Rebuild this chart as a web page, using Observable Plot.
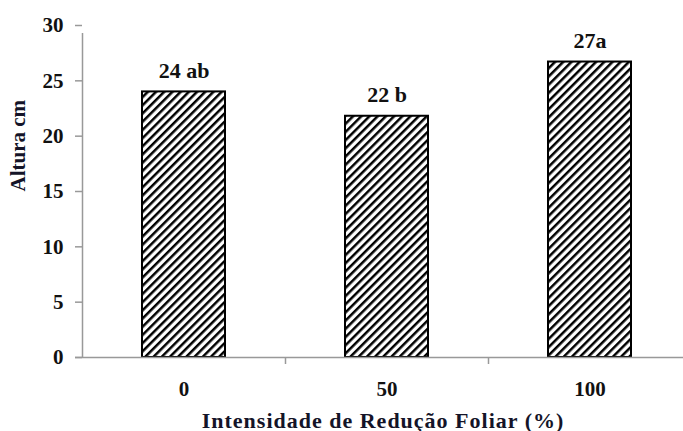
<!DOCTYPE html>
<html>
<head>
<meta charset="utf-8">
<script src="https://cdn.jsdelivr.net/npm/d3@7"></script>
<script src="https://cdn.jsdelivr.net/npm/@observablehq/plot@0.6"></script>
<style>
  html, body { margin: 0; padding: 0; background: #fff; }
  svg { display: block; }
  svg text { font-family: 'Liberation Serif', 'Times New Roman', serif !important; }
</style>
</head>
<body>
<div id="chart"></div>
<script>
const categories = ["0", "50", "100"];
const values = [24.0, 21.8, 26.7];
const labels = ["24 ab", "22 b", "27a"];
const yTicks = [0, 5, 10, 15, 20, 25, 30];
const xTitle = "Intensidade de Redução Foliar (%)";
const yTitle = "Altura cm";

const data = categories.map((c, i) => ({cat: c, value: values[i], label: labels[i]}));

const font = "'Liberation Serif', 'Times New Roman', serif";
const step = 203;

const chart = Plot.plot({
  width: 683,
  height: 431,
  marginLeft: 82,
  marginRight: 0,
  marginTop: 25,
  marginBottom: 74,
  style: {fontFamily: font, fontWeight: "bold", color: "#111", background: "#fff"},
  x: {domain: categories, range: [82, 82 + 3 * step], paddingInner: 0.59, paddingOuter: 0.295, axis: null},
  y: {domain: [0, 30], axis: null},
  marks: [
    Plot.axisY({ticks: yTicks, tickSize: 7, tickPadding: 12, stroke: "#999", strokeWidth: 1.5,
      fontSize: 21, fontFamily: font, fontWeight: "bold", fill: "#111", label: null}),
    Plot.axisX({tickSize: 0, tickPadding: 24, fontSize: 21, fontFamily: font, fontWeight: "bold", fill: "#111", label: null}),
    Plot.barY(data, {x: "cat", y: "value", fill: "url(#hatch)", stroke: "#000", strokeWidth: 2}),
    Plot.ruleY([0], {stroke: "#999", strokeWidth: 1.5, insetLeft: -7}),
    Plot.ruleX(categories.slice(0, 1), {x: d => d, dx: -step / 2, y1: 0, y2: 30, insetBottom: -8, stroke: "#999", strokeWidth: 1.5}),
    Plot.ruleX(categories.slice(1), {x: d => d, dx: -step / 2, y1: 0, y2: 0, insetBottom: -7, stroke: "#999", strokeWidth: 1.5}),
    Plot.text(data, {x: "cat", y: "value", text: "label", dy: -14, lineAnchor: "bottom",
      fontSize: 22, fontFamily: font, fontWeight: "bold", fill: "#111"}),
    Plot.text([xTitle], {frameAnchor: "bottom", dy: 70, lineAnchor: "bottom", fontSize: 22, fontFamily: font, fontWeight: "bold", fill: "#141428"}),
    Plot.text([yTitle], {frameAnchor: "left", dx: -64, rotate: -90, fontSize: 21, fontFamily: font, fontWeight: "bold", fill: "#141428"})
  ]
});

const svg = d3.select(chart);
svg.selectAll("text").filter(function() { return this.textContent === xTitle; }).attr("letter-spacing", "1px");
const defs = svg.insert("defs", ":first-child");
const pat = defs.append("pattern")
  .attr("id", "hatch")
  .attr("patternUnits", "userSpaceOnUse")
  .attr("width", 5.8)
  .attr("height", 5.8)
  .attr("patternTransform", "rotate(45)");
pat.append("rect").attr("width", 5.8).attr("height", 5.8).attr("fill", "#fff");
pat.append("line").attr("x1", 0).attr("y1", 0).attr("x2", 0).attr("y2", 5.8)
  .attr("stroke", "#000").attr("stroke-width", 5);

document.getElementById("chart").appendChild(chart);
</script>
</body>
</html>
